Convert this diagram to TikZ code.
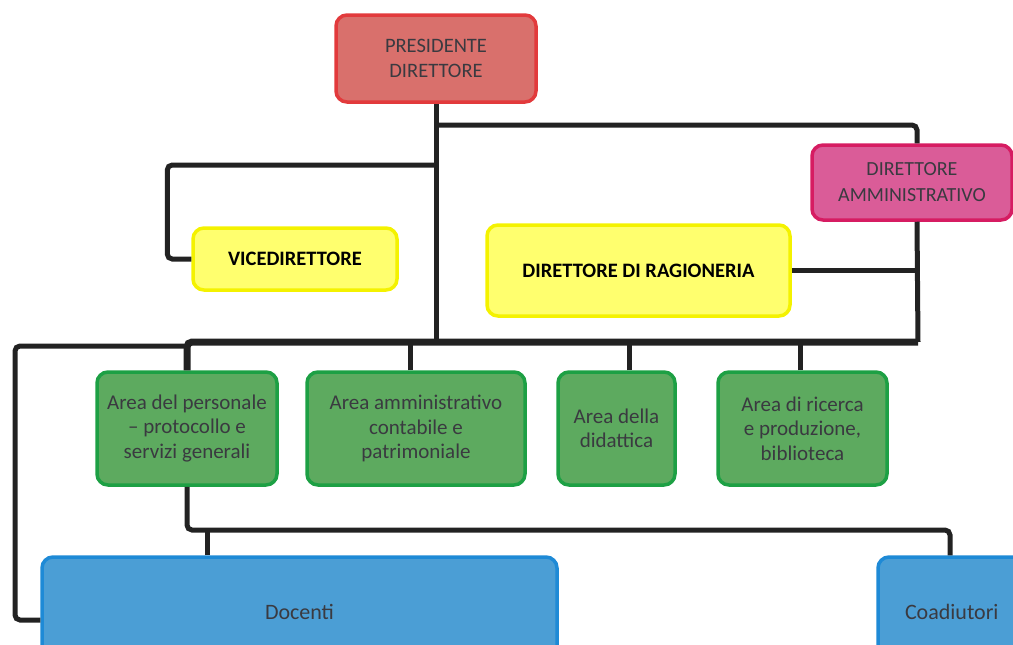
\documentclass[tikz,border=0pt]{standalone}
\usepackage{fontspec}
\setmainfont{Carlito}
\definecolor{redfill}{HTML}{D9706C}
\definecolor{redline}{HTML}{E23A3C}
\definecolor{pinkfill}{HTML}{DA5C98}
\definecolor{pinkline}{HTML}{D61C62}
\definecolor{yelfill}{HTML}{FFFF6E}
\definecolor{yelline}{HTML}{F4F200}
\definecolor{grnfill}{HTML}{5DAA5F}
\definecolor{grnline}{HTML}{1DA044}
\definecolor{blufill}{HTML}{4B9ED5}
\definecolor{bluline}{HTML}{1E8AD6}
\definecolor{conn}{HTML}{222222}
\definecolor{txt}{HTML}{3A3A40}
\begin{document}
\begin{tikzpicture}[x=1pt,y=-1pt,
  box/.style={rectangle,rounded corners=11pt,line width=3.5pt,align=center,inner sep=2pt,text=txt},
  redbox/.style={box,draw=redline,fill=redfill,font=\fontsize{20.5}{25}\selectfont},
  pinkbox/.style={box,draw=pinkline,fill=pinkfill,font=\fontsize{20}{26}\selectfont},
  yelbox/.style={box,draw=yelline,fill=yelfill,text=black,font=\fontsize{20.5}{24}\selectfont\bfseries},
  grnbox/.style={box,draw=grnline,fill=grnfill,font=\fontsize{21}{24.5}\selectfont},
  blubox/.style={box,draw=bluline,fill=blufill,font=\fontsize{22}{26}\selectfont},
  link/.style={draw=conn,line width=5pt,rounded corners=5pt},
  buslink/.style={draw=conn,line width=7pt,rounded corners=5pt}]
\useasboundingbox (0,0) rectangle (1013,645);
\clip (0,0) rectangle (1013,645);
% coordinates
\coordinate (tj) at (436,125);
\coordinate (vj) at (436,165);
\coordinate (busT) at (436,342);
\coordinate (busR) at (918,342);
\coordinate (ol) at (15,346);
\coordinate (lj) at (950,530);
% nodes
\node[redbox,minimum width=200pt,minimum height=87pt] (pres) at (436,58.5) {PRESIDENTE\\DIRETTORE};
\node[yelbox,minimum width=204pt,minimum height=62pt] (vice) at (295,259) {VICEDIRETTORE};
\node[pinkbox,minimum width=200pt,minimum height=75pt] (amm) at (912,182.5) {DIRETTORE\\AMMINISTRATIVO};
\node[yelbox,minimum width=303pt,minimum height=91pt] (rag) at (638.5,270.5) {DIRETTORE DI RAGIONERIA};
\node[grnbox,minimum width=180pt,minimum height=113pt] (a1) at (187,428.5) {Area del personale\\– protocollo e\\servizi generali};
\node[grnbox,minimum width=218pt,minimum height=113pt] (a2) at (416,428.5) {Area amministrativo\\contabile e\\patrimoniale};
\node[grnbox,minimum width=117pt,minimum height=113pt] (a3) at (616.5,428.5) {Area della\\didattica};
\node[grnbox,minimum width=169pt,minimum height=113pt] (a4) at (802.5,428.5) {Area di ricerca\\e produzione,\\biblioteca};
\node[blubox,minimum width=515pt,minimum height=110pt] (doc) at (299.5,612) {Docenti};
\node[blubox,minimum width=164pt,minimum height=110pt,text width=110pt,align=left] (coa) at (960,612) {Coadiutori};
% connectors
\path[link] (pres.south) -- (busT);
\path[link] (tj) -| ([xshift=5pt]amm.north);
\path[link] ([xshift=5pt]amm.south) -- (busR);
\path[link] (rag.east) -- (rag.east -| busR);
\path[link] (vj) -| ([xshift=-24pt]vice.west) -- (vice.west);
\path[buslink] (a1.north) |- (busR);
\path[link] ([yshift=-8pt]doc.west) -| (ol) -- (ol -| a1.north);
\path[link] ([xshift=-6pt]a2.north) -- ([xshift=-6pt]a2.north |- busR);
\path[link] ([xshift=13pt]a3.north) -- ([xshift=13pt]a3.north |- busR);
\path[link] ([xshift=-2pt]a4.north) -- ([xshift=-2pt]a4.north |- busR);
\path[link] (a1.south) |- (lj) -- (lj |- coa.north);
\path[link] ([xshift=-92pt]doc.north) -- ([xshift=-92pt]doc.north |- lj);
\end{tikzpicture}
\end{document}
